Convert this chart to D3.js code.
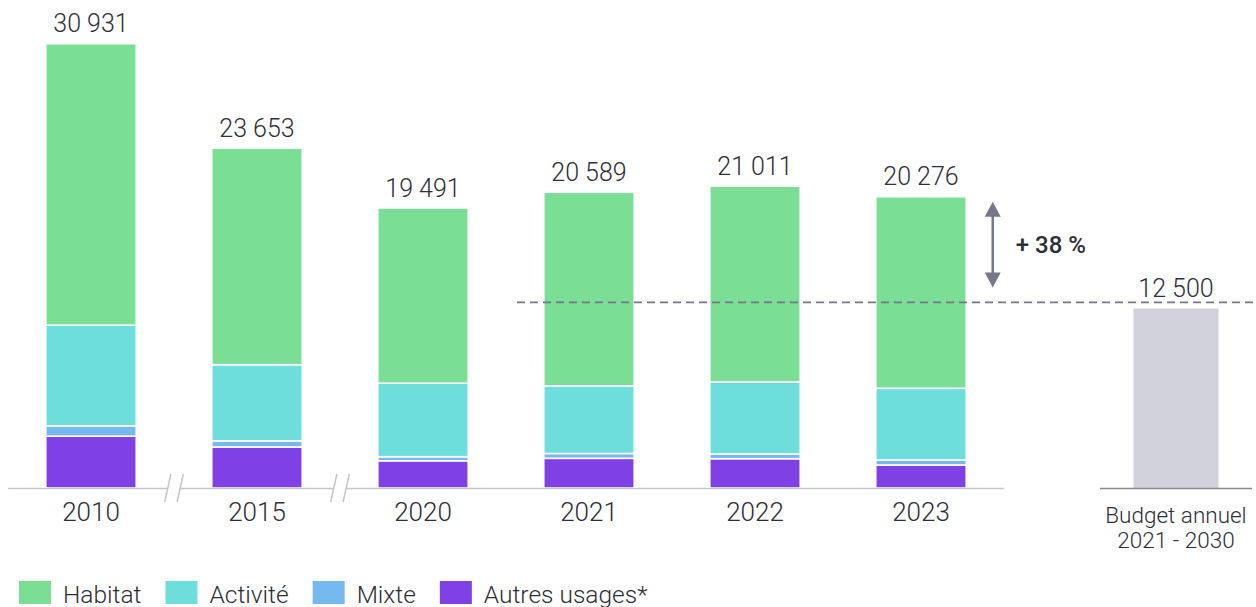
<!DOCTYPE html>
<html lang="fr">
<head>
<meta charset="utf-8">
<script src="https://cdn.jsdelivr.net/npm/d3@7/dist/d3.min.js"></script>
<style>
  html, body { margin: 0; padding: 0; background: #fff; }
  svg { display: block; }
  text { font-family: Roboto, "Open Sans", sans-serif; font-weight: 300; fill: #2e2e38; }
</style>
</head>
<body>
<svg id="chart" width="1256" height="607"></svg>
<script>
// Consommation d'espaces par usage (ha) et budget annuel 2021-2030
const years    = ["2010", "2015", "2020", "2021", "2022", "2023"];
const totals   = [30931, 23653, 19491, 20589, 21011, 20276];
const habitat  = [19597, 15069, 12195, 13474, 13631, 13335];
const activite = [7004, 5298, 5117, 4713, 5013, 4992];
const mixte    = [724, 432, 285, 334, 327, 348];
const autres   = [3606, 2854, 1894, 2068, 2040, 1601];

const budgetLabel = ["Budget annuel", "2021 - 2030"];
const budgetValue = 12500;
const ecartLabel  = "+ 38 %";

// indices after which the time axis is broken
const breaksAfter = [0, 1];

const seriesKeys   = ["autres", "mixte", "activite", "habitat"];
const seriesNames  = { habitat: "Habitat", activite: "Activité", mixte: "Mixte", autres: "Autres usages*" };
const seriesColors = { habitat: "#7adf95", activite: "#6ddedb", mixte: "#75b9ee", autres: "#7f41e6" };
const legendOrder  = ["habitat", "activite", "mixte", "autres"];

const fmt = v => d3.format(",")(v).replace(/,/g, " ");

const svg = d3.select("#chart");
const baseY = 488;

const x = d3.scaleBand().domain(years).range([8, 1004]).paddingInner(0.455).paddingOuter(0.2275);
const xb = d3.scaleBand().domain(["budget"]).range([1100, 1252]).paddingInner(0.44).paddingOuter(0.22);
const y = d3.scaleLinear().domain([0, totals[0]]).range([baseY, 43.7]);

const rows = years.map((yr, i) => ({
  year: yr, habitat: habitat[i], activite: activite[i], mixte: mixte[i], autres: autres[i], total: totals[i]
}));
const stacked = d3.stack().keys(seriesKeys)(rows);

// stacked bars
svg.append("g").selectAll("g")
  .data(stacked)
  .join("g")
    .attr("fill", s => seriesColors[s.key])
  .selectAll("rect")
  .data(s => s)
  .join("rect")
    .attr("x", d => x(d.data.year))
    .attr("width", x.bandwidth())
    .attr("y", d => y(d[1]))
    .attr("height", d => y(d[0]) - y(d[1]))
    .attr("stroke", "#fff")
    .attr("stroke-width", 1.6);

// axis baseline
svg.append("line")
  .attr("x1", x.range()[0]).attr("x2", x.range()[1])
  .attr("y1", baseY + 0.5).attr("y2", baseY + 0.5)
  .attr("stroke", "#c4c4cf").attr("stroke-width", 1.3);

// axis break marks
breaksAfter.forEach(i => {
  const cx = (x(years[i]) + x.bandwidth() + x(years[i + 1])) / 2;
  const g = svg.append("g");
  g.append("line")
    .attr("x1", cx - 6.5).attr("x2", cx + 6.5)
    .attr("y1", baseY + 0.5).attr("y2", baseY + 0.5)
    .attr("stroke", "#fff").attr("stroke-width", 3);
  [-6.2, 6.2].forEach(dx => {
    g.append("line")
      .attr("x1", cx + dx + 3.1).attr("y1", baseY - 14)
      .attr("x2", cx + dx - 3.1).attr("y2", baseY + 14)
      .attr("stroke", "#c4c4cf").attr("stroke-width", 1.5);
  });
});

// year labels
svg.append("g").selectAll("text")
  .data(years)
  .join("text")
    .attr("x", d => x(d) + x.bandwidth() / 2)
    .attr("y", 521)
    .attr("text-anchor", "middle")
    .attr("font-size", 26)
    .text(d => d);

// total labels
svg.append("g").selectAll("text")
  .data(rows)
  .join("text")
    .attr("x", d => x(d.year) + x.bandwidth() / 2)
    .attr("y", d => y(d.total) - 11.5)
    .attr("text-anchor", "middle")
    .attr("font-size", 25)
    .text(d => fmt(d.total));

// budget bar
const bx = xb("budget");
svg.append("rect")
  .attr("x", bx).attr("width", xb.bandwidth())
  .attr("y", y(budgetValue)).attr("height", baseY - y(budgetValue))
  .attr("fill", "#d2d2dc");
svg.append("line")
  .attr("x1", xb.range()[0]).attr("x2", xb.range()[1])
  .attr("y1", baseY + 0.5).attr("y2", baseY + 0.5)
  .attr("stroke", "#8a8a99").attr("stroke-width", 1.3);
svg.append("text")
  .attr("x", bx + xb.bandwidth() / 2).attr("y", y(budgetValue) - 11)
  .attr("text-anchor", "middle").attr("font-size", 25)
  .text(fmt(budgetValue));
svg.append("g").selectAll("text")
  .data(budgetLabel)
  .join("text")
    .attr("x", bx + xb.bandwidth() / 2)
    .attr("y", (d, i) => 522.5 + i * 25.5)
    .attr("text-anchor", "middle").attr("font-size", 22.5)
    .text(d => d);

// budget reference line
const refY = y(budgetValue) - 6;
svg.append("line")
  .attr("x1", 517).attr("x2", 1256)
  .attr("y1", refY).attr("y2", refY)
  .attr("stroke", "#767689").attr("stroke-width", 1.8)
  .attr("stroke-dasharray", "8,5");

// gap arrow between the latest year and the budget
const last = rows[rows.length - 1];
const ax = x(last.year) + x.bandwidth() + 26.5;
const aTop = y(last.total) + 5;
const aBot = refY - 15;
const arrowColor = "#77778c";
svg.append("line")
  .attr("x1", ax).attr("x2", ax)
  .attr("y1", aTop + 10).attr("y2", aBot - 10)
  .attr("stroke", arrowColor).attr("stroke-width", 2.5);
svg.append("path")
  .attr("d", `M${ax},${aTop} L${ax + 8},${aTop + 15} L${ax - 8},${aTop + 15} Z`)
  .attr("fill", arrowColor);
svg.append("path")
  .attr("d", `M${ax},${aBot} L${ax + 8},${aBot - 15} L${ax - 8},${aBot - 15} Z`)
  .attr("fill", arrowColor);
svg.append("text")
  .attr("x", ax + 23).attr("y", (aTop + aBot) / 2 + 8.5)
  .attr("font-size", 24).style("font-weight", 500)
  .text(ecartLabel);

// legend
const legend = svg.append("g");
let lx = 19;
legendOrder.forEach(k => {
  legend.append("rect")
    .attr("x", lx).attr("y", 581)
    .attr("width", 32).attr("height", 23)
    .attr("fill", seriesColors[k]);
  const t = legend.append("text")
    .attr("x", lx + 44).attr("y", 602.5)
    .attr("font-size", 24.5)
    .text(seriesNames[k]);
  lx += 44 + t.node().getComputedTextLength() + 24;
});
</script>
</body>
</html>
